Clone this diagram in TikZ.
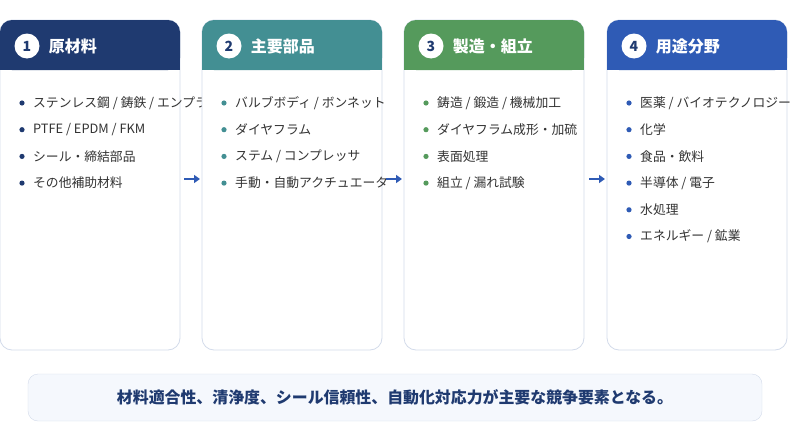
\documentclass[tikz,border=0pt]{standalone}
\usepackage{fontspec}
\setmainfont{Noto Sans CJK JP}
\usetikzlibrary{arrows.meta,positioning}
\definecolor{cnavy}{HTML}{1F3A70}
\definecolor{cteal}{HTML}{438F93}
\definecolor{cgreen}{HTML}{559A5C}
\definecolor{cblue}{HTML}{2F5BB5}
\definecolor{cedge}{HTML}{D3DBEA}
\definecolor{ctext}{HTML}{333333}
\definecolor{cnote}{HTML}{F5F8FD}
\tikzset{
  card/.style={draw=cedge,line width=0.8pt,fill=white,rounded corners=12pt},
  item/.style={anchor=west,inner sep=0pt,text=ctext,font=\fontsize{12.8}{15}\selectfont},
  badge/.style={circle,fill=white,minimum size=25pt,inner sep=0pt,font=\bfseries\fontsize{14}{16}\selectfont},
  title/.style={anchor=west,inner sep=0pt,text=white,font=\bfseries\fontsize{16}{18}\selectfont},
  flow/.style={-{Triangle[length=6pt,width=8pt]},line width=2pt,cblue}
}
% card: x, colour, number, title, items
\newcommand{\stagecard}[5]{%
  \draw[card] (#1,20) rectangle (#1+180,350);
  \fill[#2,rounded corners=12pt] (#1,70) -- (#1,20) -- (#1+180,20) -- (#1+180,70) -- cycle;
  \fill[#2] (#1,50) rectangle (#1+180,70);
  \node[badge,text=cnavy] (b#3) at (#1+27,46) {#3};
  \node[title,right=9pt of b#3] {#4};
  \foreach \txt [count=\i] in {#5} {
    \fill[#2] (#1+22,103+26.7*\i-26.7) circle (2.6pt);
    \node[item] at (#1+33,103+26.7*\i-26.7) {\txt};
  }
}
\begin{document}
\begin{tikzpicture}[x=1pt,y=-1pt]
\useasboundingbox (0,0) rectangle (806,423);
\stagecard{0}{cnavy}{1}{原材料}{ステンレス鋼 / 鋳鉄 / エンプラ,PTFE / EPDM / FKM,シール・締結部品,その他補助材料}
\stagecard{202}{cteal}{2}{主要部品}{バルブボディ / ボンネット,ダイヤフラム,ステム / コンプレッサ,手動・自動アクチュエータ}
\stagecard{404}{cgreen}{3}{製造・組立}{鋳造 / 鍛造 / 機械加工,ダイヤフラム成形・加硫,表面処理,組立 / 漏れ試験}
\stagecard{607}{cblue}{4}{用途分野}{医薬 / バイオテクノロジー,化学,食品・飲料,半導体 / 電子,水処理,エネルギー / 鉱業}
\coordinate (a1) at (184,179); \coordinate (a2) at (200,179);
\coordinate (a3) at (386,179); \coordinate (a4) at (402,179);
\coordinate (a5) at (589,179); \coordinate (a6) at (605,179);
\draw[flow] (a1) -- (a2);
\draw[flow] (a3) -- (a4);
\draw[flow] (a5) -- (a6);
\node[draw=cedge,fill=cnote,rounded corners=10pt,minimum width=734pt,minimum height=47pt,
  text=cnavy,font=\bfseries\fontsize{15.9}{18}\selectfont] (note) at (395,397.5)
  {材料適合性、清浄度、シール信頼性、自動化対応力が主要な競争要素となる。};
\end{tikzpicture}
\end{document}
